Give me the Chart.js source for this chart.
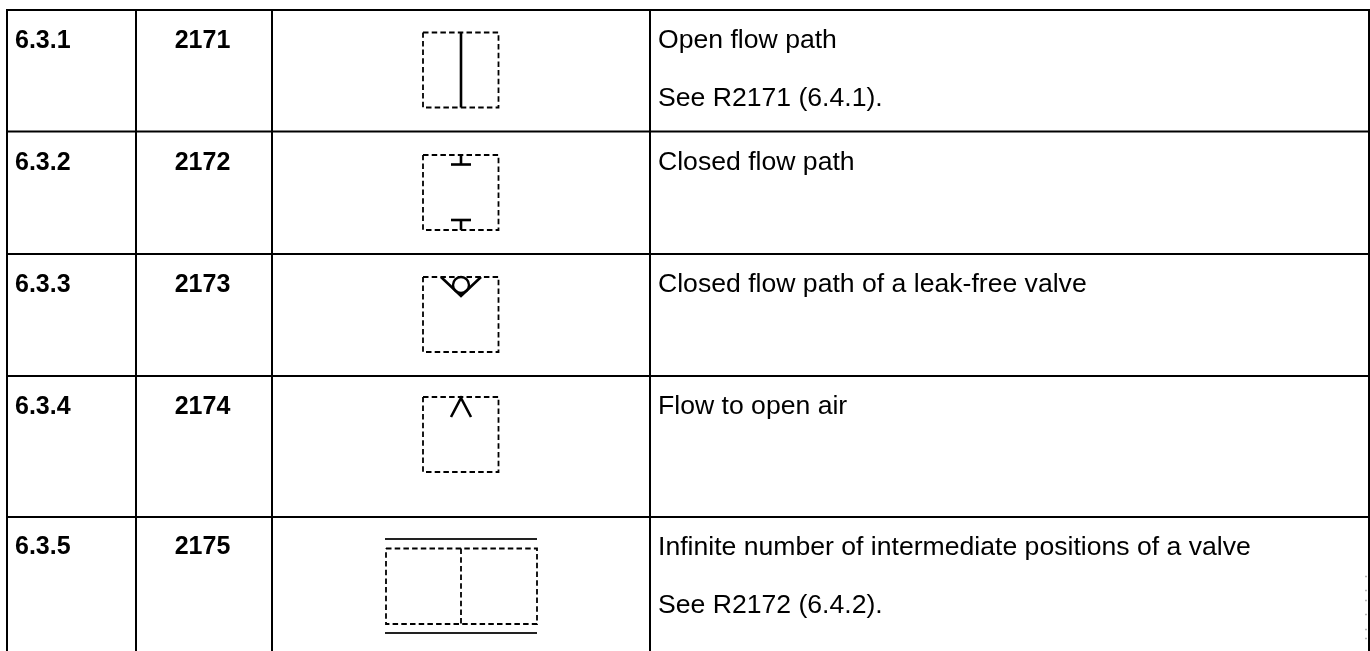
<!DOCTYPE html>
<html><head><meta charset="utf-8">
<style>html,body{margin:0;padding:0;background:#fff}#w{width:1370px;height:651px;position:relative}</style>
<script src="https://cdn.jsdelivr.net/npm/chart.js@4"></script></head>
<body><div id="w"><canvas id="c"></canvas></div>
<script>
const ids=['6.3.1','6.3.2','6.3.3','6.3.4','6.3.5'];
const codes=['2171','2172','2173','2174','2175'];
const rowTextY=[48,170,292,414,554];
const line1Y=[48,170,292,414,555];
const line1=['Open flow path','Closed flow path','Closed flow path of a leak-free valve','Flow to open air','Infinite number of intermediate positions of a valve'];
const line2=[['See R2171 (6.4.1).',106],null,null,null,['See R2172 (6.4.2).',613]];
const hRules=[10,131.5,254,376,517];
const vRules=[7,136,272,650,1369];
const boxes=[[423,498.5,32.5,107.5],[423,498.5,155,230],[423,498.5,277,352],[423,498.5,397,472],[386,537,548.5,624]];
const dashedInner=[[[461,548.5],[461,624]]];
const solidPaths=[
 [[461,32.5],[461,107.5]],
 [[461,155],[461,164]],[[451,164.5],[471,164.5]],
 [[451,220],[471,220]],[[461,220],[461,230]],
 [[441,277],[461,296],[481,277]],
 [[451,417],[461,398],[471,417]]
];
const doubleLines=[[[385,539],[537,539]],[[385,633],[537,633]]];
const circles=[[461,285]];
const specks=[[1366,576.5],[1366,590.5],[1366,600.5],[1366,614.5],[1366,629.5],[1366,638.5]];

const ds=[];
const pl=(pts,w,dash,col)=>ds.push({type:'line',data:pts.map(p=>({x:p[0],y:p[1]})),borderColor:col||'#000',borderWidth:w,borderDash:dash||[],pointRadius:0,fill:false,tension:0,borderCapStyle:'butt',borderJoinStyle:'miter'});
hRules.forEach(y=>pl([[6,y],[1370,y]],2));
vRules.forEach(x=>pl([[x,9],[x,651]],2));
boxes.forEach(b=>pl([[b[0],b[2]],[b[1],b[2]],[b[1],b[3]],[b[0],b[3]],[b[0],b[2]]],1.8,[5.5,3.2]));
dashedInner.forEach(p=>pl(p,1.8,[5.5,3.2]));
solidPaths.forEach(p=>pl(p,2.6));
doubleLines.forEach(p=>pl(p,2,[],'#222'));
ds.push({type:'scatter',data:circles.map(p=>({x:p[0],y:p[1]})),pointRadius:8,pointBorderWidth:2.4,pointBorderColor:'#000',pointBackgroundColor:'rgba(255,255,255,0)',showLine:false});
ds.push({type:'scatter',data:specks.map(p=>({x:p[0],y:p[1]})),pointStyle:'rect',pointRadius:1.2,pointBorderWidth:0,pointBackgroundColor:'#aaa',showLine:false});

const textPlugin={id:'tableText',afterDatasetsDraw(ch){
 const c=ch.ctx,X=ch.scales.x,Y=ch.scales.y;
 c.save();c.fillStyle='#000';c.textBaseline='alphabetic';
 c.font='bold 25px "Liberation Sans", Arial, sans-serif';
 ids.forEach((t,i)=>{c.textAlign='left';c.fillText(t,X.getPixelForValue(15),Y.getPixelForValue(rowTextY[i]));
   c.textAlign='center';c.fillText(codes[i],X.getPixelForValue(202.5),Y.getPixelForValue(rowTextY[i]));});
 c.font='26.6px "Liberation Sans", Arial, sans-serif';c.textAlign='left';
 line1.forEach((t,i)=>c.fillText(t,X.getPixelForValue(658),Y.getPixelForValue(line1Y[i])));
 line2.forEach(l=>{if(l)c.fillText(l[0],X.getPixelForValue(658),Y.getPixelForValue(l[1]));});
 c.restore();
}};
new Chart(document.getElementById('c'),{
 data:{datasets:ds},
 plugins:[textPlugin],
 options:{responsive:true,maintainAspectRatio:false,animation:false,
  layout:{padding:0,autoPadding:false},
  plugins:{legend:{display:false},tooltip:{enabled:false},title:{display:false}},
  scales:{
   x:{type:'linear',min:0,max:1370,display:false},
   y:{type:'linear',min:0,max:651,reverse:true,display:false}
  }}
});
</script></body></html>
